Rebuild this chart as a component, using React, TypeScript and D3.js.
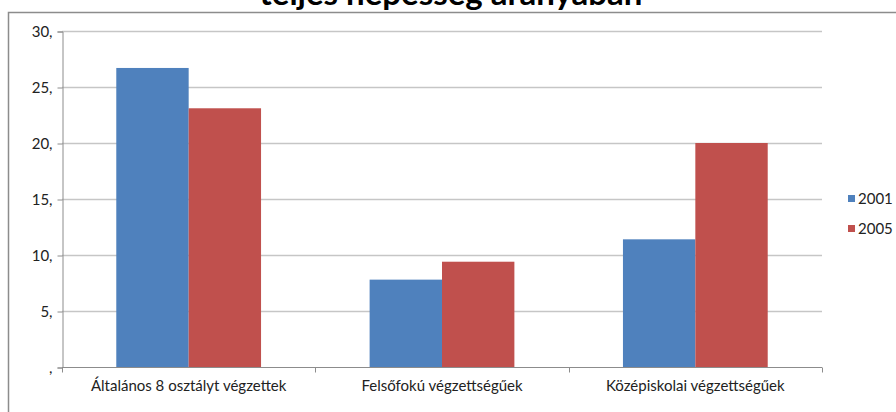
import React, { useRef, useEffect } from 'react';
import * as d3 from 'd3';

const categories = ['Általános 8 osztályt végzettek', 'Felsőfokú végzettségűek', 'Középiskolai végzettségűek'];
const seriesNames = ['2001', '2005'];
const values2001 = [26.7, 7.8, 11.4];
const values2005 = [23.1, 9.4, 20.0];
const yTicks = [0, 5, 10, 15, 20, 25, 30];
const title = 'teljes népesség arányában';

const colors = ['#4F81BD', '#C0504D'];
const font = 'Lato, "Open Sans", sans-serif';

const App = () => {
  const svgRef = useRef<SVGSVGElement>(null);

  useEffect(() => {
    const svg = d3.select(svgRef.current);
    svg.selectAll('*').remove();

    const plot = { left: 62, top: 31, right: 822, bottom: 367 };

    // outer chart border
    svg.append('rect')
      .attr('x', 8.5).attr('y', 12.5)
      .attr('width', 900).attr('height', 420)
      .attr('fill', 'white')
      .attr('stroke', '#8c8c8c')
      .attr('stroke-width', 1.5);

    // title, cut off at the top like the reference
    svg.append('text')
      .attr('x', 451).attr('y', 5)
      .attr('text-anchor', 'middle')
      .attr('font-family', font)
      .attr('font-weight', 'bold')
      .attr('font-size', 33)
      .attr('fill', '#000')
      .text(title);

    const x0 = d3.scaleBand()
      .domain(categories)
      .range([plot.left, plot.right]);

    const barW = x0.bandwidth() / 3.5;
    const x1 = d3.scaleBand()
      .domain(seriesNames)
      .range([0, barW * 2]);

    const y = d3.scaleLinear()
      .domain([0, 30])
      .range([plot.bottom, plot.top]);

    // gridlines
    svg.append('g')
      .selectAll('line')
      .data(yTicks.filter(t => t > 0))
      .enter()
      .append('line')
      .attr('x1', plot.left).attr('x2', plot.right)
      .attr('y1', d => Math.round(y(d)) + 0.5)
      .attr('y2', d => Math.round(y(d)) + 0.5)
      .attr('stroke', '#c6c6c6')
      .attr('stroke-width', 1.5);

    // y axis
    const yAxis = d3.axisLeft(y)
      .tickValues(yTicks)
      .tickSize(5)
      .tickPadding(5)
      .tickFormat(d => (+d === 0 ? ',' : `${d},`));
    const gy = svg.append('g')
      .attr('transform', `translate(${plot.left + 0.5},0.5)`)
      .call(yAxis);
    gy.select('.domain').attr('stroke', '#8c8c8c');
    gy.selectAll('.tick line').attr('stroke', '#8c8c8c');
    gy.selectAll('text')
      .attr('font-family', font)
      .attr('font-size', 15)
      .attr('fill', '#222');

    // bars
    const series = [values2001, values2005];
    series.forEach((vals, si) => {
      svg.append('g')
        .selectAll('rect')
        .data(vals)
        .enter()
        .append('rect')
        .attr('x', (v, i) => (x0(categories[i]) as number) + barW * 0.75 + (x1(seriesNames[si]) as number))
        .attr('y', v => y(v))
        .attr('width', x1.bandwidth())
        .attr('height', v => plot.bottom - y(v))
        .attr('fill', colors[si]);
    });

    // x axis
    const gx = svg.append('g')
      .attr('transform', `translate(0,${plot.bottom + 0.5})`);
    gx.append('line')
      .attr('x1', plot.left).attr('x2', plot.right)
      .attr('stroke', '#8c8c8c');
    const bounds = [plot.left, ...categories.map(c => (x0(c) as number) + x0.bandwidth())];
    gx.selectAll('line.tick')
      .data(bounds)
      .enter()
      .append('line')
      .attr('class', 'tick')
      .attr('x1', d => Math.round(d) + 0.5).attr('x2', d => Math.round(d) + 0.5)
      .attr('y1', 0).attr('y2', 5)
      .attr('stroke', '#8c8c8c');
    gx.selectAll('text')
      .data(categories)
      .enter()
      .append('text')
      .attr('x', d => (x0(d) as number) + x0.bandwidth() / 2)
      .attr('y', 23)
      .attr('text-anchor', 'middle')
      .attr('font-family', font)
      .attr('font-size', 15)
      .attr('fill', '#222')
      .text(d => d);

    // legend
    const legend = svg.append('g')
      .attr('transform', 'translate(848,195)');
    seriesNames.forEach((s, i) => {
      legend.append('rect')
        .attr('x', 0).attr('y', i * 30)
        .attr('width', 7).attr('height', 7)
        .attr('fill', colors[i]);
      legend.append('text')
        .attr('x', 10).attr('y', i * 30 + 9)
        .attr('font-family', font)
        .attr('font-size', 15)
        .attr('fill', '#222')
        .text(s);
    });
  }, []);

  return (
    <svg ref={svgRef} width={896} height={412}
      style={{ position: 'absolute', left: 0, top: 0, background: 'white' }} />
  );
};

export default App;
